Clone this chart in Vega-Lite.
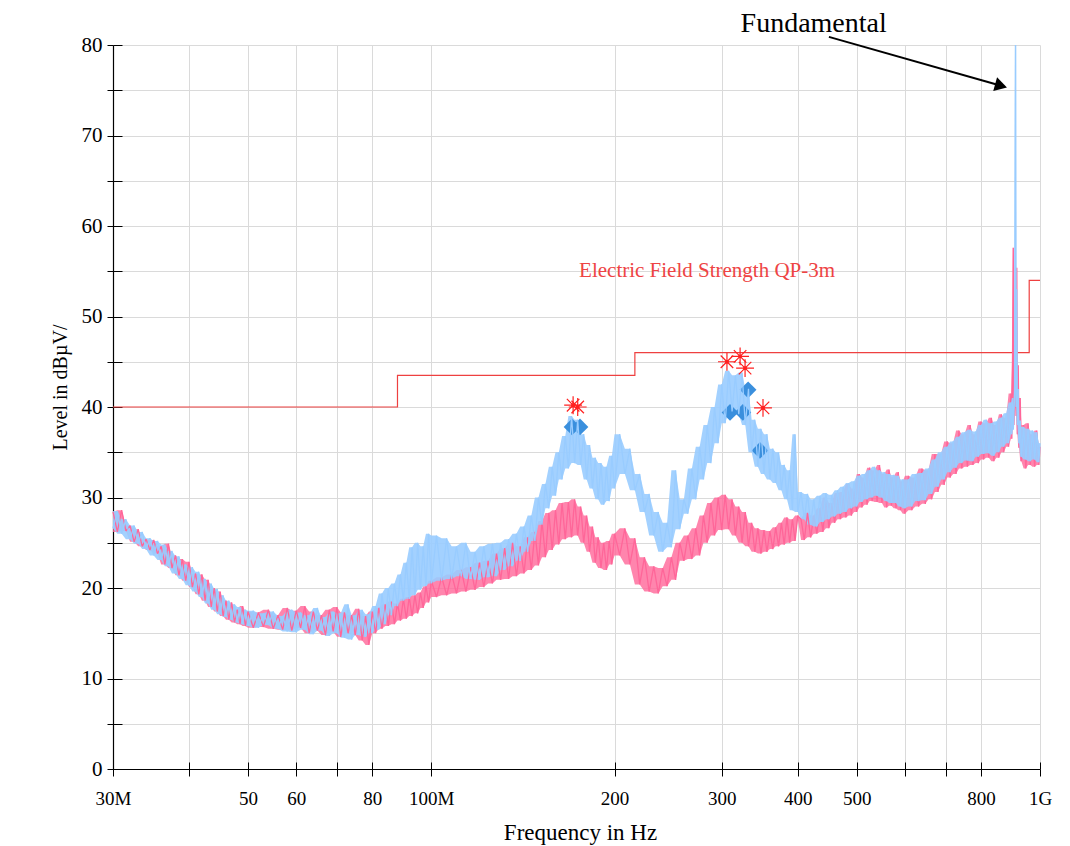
{
"$schema":"https://vega.github.io/schema/vega-lite/v6.json",
"width":927,"height":724,
"autosize":{"type":"none"},
"padding":{"left":113,"top":45,"right":30,"bottom":77},
"background":"white",
"config":{"view":{"stroke":null},"font":"Liberation Serif"},
"datasets":{
"traces":[
{"f":30,"b":26.6,"p":28.4},{"f":30.5,"b":28.5,"p":26.2},{"f":31,"b":26.0,"p":28.6},{"f":31.5,"b":27.6,"p":26.3},{"f":32,"b":25.4,"p":26.9},{"f":32.5,"b":26.9,"p":25.1},{"f":33,"b":24.9,"p":26.5},{"f":33.5,"b":26.2,"p":24.6},{"f":34,"b":24.3,"p":25.4},{"f":34.5,"b":25.5,"p":24.2},{"f":35,"b":23.6,"p":25.3},{"f":35.5,"b":25.2,"p":23.8},{"f":36,"b":23.1,"p":24.6},{"f":36.5,"b":24.8,"p":22.6},{"f":37,"b":22.4,"p":24.9},{"f":37.5,"b":24.1,"p":22.2},{"f":38,"b":21.6,"p":23.6},{"f":38.5,"b":23.5,"p":21.4},{"f":39,"b":21.0,"p":23.2},{"f":39.5,"b":22.6,"p":20.8},{"f":40,"b":20.3,"p":22.9},{"f":40.5,"b":22.3,"p":20.1},{"f":41,"b":19.6,"p":21.6},{"f":41.5,"b":21.8,"p":19.3},{"f":42,"b":19.0,"p":21.5},{"f":42.5,"b":21.0,"p":18.6},{"f":43,"b":18.3,"p":20.9},{"f":43.5,"b":20.5,"p":17.9},{"f":44,"b":17.6,"p":20.0},{"f":44.5,"b":19.9,"p":17.4},{"f":45,"b":17.1,"p":19.6},{"f":45.5,"b":19.2,"p":16.9},{"f":46,"b":16.8,"p":18.6},{"f":46.5,"b":18.6,"p":16.5},{"f":47,"b":16.5,"p":18.4},{"f":47.5,"b":18.2,"p":16.2},{"f":48,"b":16.2,"p":17.6},{"f":48.5,"b":17.9,"p":16.0},{"f":49,"b":16.0,"p":18.0},{"f":49.5,"b":17.6,"p":15.8},{"f":50,"b":15.8,"p":17.4},
{"f":51,"b":17.5,"p":15.6},{"f":52,"b":15.6,"p":17.3},{"f":53,"b":17.2,"p":15.7},{"f":54,"b":15.9,"p":17.6},{"f":55,"b":17.4,"p":15.5},{"f":56,"b":15.5,"p":17.0},{"f":57,"b":16.9,"p":15.4},{"f":58,"b":15.2,"p":17.8},{"f":59,"b":17.6,"p":15.3},{"f":60,"b":15.1,"p":17.5},{"f":61,"b":17.3,"p":15.6},{"f":62,"b":15.4,"p":18.0},{"f":63,"b":17.0,"p":15.0},{"f":64,"b":14.9,"p":17.4},{"f":65,"b":17.8,"p":15.3},{"f":66,"b":15.3,"p":17.0},{"f":67,"b":16.8,"p":14.8},{"f":68,"b":14.7,"p":17.6},{"f":69,"b":17.4,"p":15.2},{"f":70,"b":15.0,"p":17.9},{"f":71,"b":17.2,"p":14.6},{"f":72,"b":14.5,"p":17.3},{"f":73,"b":18.2,"p":15.0},{"f":74,"b":14.3,"p":17.0},{"f":75,"b":17.0,"p":14.8},{"f":76,"b":14.8,"p":17.7},{"f":77,"b":17.6,"p":14.2},{"f":78,"b":14.6,"p":16.9},{"f":79,"b":17.1,"p":13.7},{"f":80,"b":15.0,"p":17.4},{"f":81,"b":18.0,"p":15.0},{"f":82,"b":15.4,"p":17.8},{"f":83,"b":19.4,"p":15.5},{"f":84,"b":16.0,"p":18.2},{"f":85,"b":20.0,"p":15.8},{"f":86,"b":17.0,"p":18.5},{"f":87,"b":20.5,"p":16.0},{"f":88,"b":18.0,"p":18.3},{"f":89,"b":21.5,"p":16.4},{"f":90,"b":18.6,"p":18.8},{"f":91,"b":22.8,"p":16.6},{"f":92,"b":18.8,"p":19.0},{"f":93,"b":24.5,"p":16.9},{"f":94,"b":19.2,"p":19.2},{"f":95,"b":25.0,"p":17.2},{"f":96,"b":19.8,"p":19.5},{"f":97,"b":24.6,"p":17.8},{"f":98,"b":20.2,"p":20.2},{"f":99,"b":26.0,"p":18.4},{"f":100,"b":20.5,"p":20.8},
{"f":102,"b":25.8,"p":19.0},{"f":104,"b":20.8,"p":21.2},{"f":106,"b":25.5,"p":19.2},{"f":108,"b":21.0,"p":21.5},{"f":110,"b":24.6,"p":19.4},{"f":112,"b":21.3,"p":22.0},{"f":114,"b":25.0,"p":19.6},{"f":116,"b":21.0,"p":22.3},{"f":118,"b":24.0,"p":19.8},{"f":120,"b":20.9,"p":22.8},{"f":122,"b":24.6,"p":20.1},{"f":124,"b":21.2,"p":23.0},{"f":126,"b":24.9,"p":20.5},{"f":128,"b":21.3,"p":23.8},{"f":130,"b":25.0,"p":20.9},{"f":132,"b":22.0,"p":24.4},{"f":134,"b":25.4,"p":21.0},{"f":136,"b":22.4,"p":25.0},{"f":138,"b":26.0,"p":21.3},{"f":140,"b":23.0,"p":24.6},{"f":142,"b":26.8,"p":21.6},{"f":144,"b":24.0,"p":25.6},{"f":146,"b":28.0,"p":22.0},{"f":148,"b":25.2,"p":26.2},{"f":150,"b":30.0,"p":22.5},{"f":152,"b":27.0,"p":27.4},{"f":154,"b":31.5,"p":23.4},{"f":156,"b":28.8,"p":28.3},{"f":158,"b":33.4,"p":24.2},{"f":160,"b":30.2,"p":28.6},{"f":162,"b":35.0,"p":24.8},{"f":164,"b":32.0,"p":29.4},{"f":166,"b":36.8,"p":25.4},{"f":168,"b":33.2,"p":29.5},{"f":170,"b":39.0,"p":25.6},{"f":172,"b":33.8,"p":29.8},{"f":174,"b":38.6,"p":25.8},{"f":176,"b":33.6,"p":29.0},{"f":178,"b":37.0,"p":25.0},{"f":180,"b":32.0,"p":28.0},{"f":182,"b":35.8,"p":24.0},{"f":184,"b":31.0,"p":26.8},{"f":186,"b":34.4,"p":22.8},{"f":188,"b":29.8,"p":25.6},{"f":190,"b":33.8,"p":22.2},{"f":192,"b":29.2,"p":25.0},{"f":194,"b":33.4,"p":22.0},{"f":196,"b":29.6,"p":25.2},{"f":198,"b":34.6,"p":22.6},{"f":200,"b":31.0,"p":26.0},
{"f":204,"b":37.0,"p":23.6},{"f":208,"b":32.6,"p":26.6},{"f":212,"b":35.4,"p":22.6},{"f":216,"b":30.8,"p":25.5},{"f":220,"b":32.6,"p":20.4},{"f":224,"b":28.4,"p":23.4},{"f":228,"b":30.4,"p":19.6},{"f":232,"b":25.8,"p":22.4},{"f":236,"b":28.4,"p":19.4},{"f":240,"b":24.0,"p":22.2},{"f":244,"b":27.2,"p":20.2},{"f":248,"b":24.5,"p":23.4},{"f":252,"b":33.0,"p":20.9},{"f":256,"b":26.5,"p":25.0},{"f":260,"b":29.8,"p":23.0},{"f":264,"b":28.2,"p":25.8},{"f":268,"b":33.2,"p":23.2},{"f":272,"b":29.8,"p":26.6},{"f":276,"b":35.6,"p":23.6},{"f":280,"b":32.0,"p":28.0},{"f":284,"b":38.0,"p":25.0},{"f":288,"b":33.8,"p":29.4},{"f":292,"b":40.0,"p":25.8},{"f":296,"b":36.0,"p":30.0},{"f":300,"b":42.5,"p":26.4},{"f":304,"b":38.2,"p":30.3},{"f":308,"b":44.0,"p":26.5},{"f":312,"b":39.5,"p":29.8},{"f":316,"b":43.5,"p":25.8},{"f":320,"b":39.2,"p":29.0},{"f":324,"b":43.8,"p":25.0},{"f":328,"b":38.0,"p":28.4},{"f":332,"b":42.0,"p":24.6},{"f":336,"b":35.0,"p":27.2},{"f":340,"b":38.6,"p":24.0},{"f":344,"b":33.4,"p":26.6},{"f":348,"b":37.6,"p":23.8},{"f":352,"b":32.6,"p":26.4},{"f":356,"b":37.0,"p":24.0},{"f":360,"b":32.0,"p":26.3},{"f":364,"b":35.4,"p":24.3},{"f":368,"b":31.6,"p":26.7},{"f":372,"b":35.0,"p":24.6},{"f":376,"b":30.8,"p":27.2},{"f":380,"b":33.6,"p":24.8},{"f":384,"b":29.8,"p":27.8},{"f":388,"b":33.0,"p":25.0},{"f":392,"b":28.6,"p":27.6},{"f":396,"b":37.0,"p":25.2},{"f":400,"b":28.4,"p":28.0},
{"f":405,"b":30.6,"p":27.6},{"f":410,"b":27.6,"p":25.3},{"f":415,"b":30.4,"p":28.3},{"f":420,"b":27.0,"p":25.6},{"f":425,"b":29.8,"p":28.0},{"f":430,"b":26.8,"p":26.0},{"f":435,"b":30.2,"p":28.8},{"f":440,"b":27.3,"p":26.2},{"f":445,"b":30.5,"p":30.0},{"f":450,"b":27.6,"p":26.6},{"f":455,"b":30.3,"p":29.4},{"f":460,"b":27.9,"p":27.2},{"f":465,"b":30.8,"p":30.5},{"f":470,"b":28.2,"p":27.6},{"f":475,"b":31.2,"p":30.6},{"f":480,"b":28.4,"p":27.8},{"f":485,"b":31.6,"p":31.5},{"f":490,"b":28.8,"p":28.0},{"f":495,"b":31.8,"p":31.0},{"f":500,"b":29.0,"p":28.4},{"f":505,"b":32.4,"p":32.6},{"f":510,"b":29.5,"p":28.9},{"f":515,"b":32.6,"p":32.2},{"f":520,"b":29.8,"p":29.2},{"f":525,"b":33.0,"p":33.3},{"f":530,"b":30.0,"p":29.6},{"f":535,"b":33.4,"p":33.0},{"f":540,"b":30.2,"p":29.5},{"f":545,"b":33.0,"p":33.6},{"f":550,"b":30.0,"p":29.4},{"f":555,"b":32.8,"p":32.6},{"f":560,"b":29.6,"p":28.9},{"f":565,"b":32.6,"p":33.1},{"f":570,"b":29.4,"p":29.1},{"f":575,"b":32.5,"p":32.3},{"f":580,"b":29.4,"p":28.8},{"f":585,"b":32.4,"p":32.8},{"f":590,"b":29.0,"p":28.6},{"f":595,"b":32.0,"p":31.8},{"f":600,"b":28.8,"p":28.2},
{"f":608,"b":32.0,"p":32.4},{"f":616,"b":29.0,"p":28.6},{"f":624,"b":32.6,"p":32.2},{"f":632,"b":29.6,"p":29.0},{"f":640,"b":32.7,"p":33.2},{"f":648,"b":29.7,"p":29.3},{"f":656,"b":33.2,"p":33.0},{"f":664,"b":30.4,"p":29.8},{"f":672,"b":34.2,"p":34.8},{"f":680,"b":31.2,"p":30.6},{"f":688,"b":35.0,"p":34.8},{"f":696,"b":32.0,"p":31.4},{"f":704,"b":35.6,"p":36.2},{"f":712,"b":32.8,"p":32.2},{"f":720,"b":36.2,"p":36.0},{"f":728,"b":33.3,"p":32.6},{"f":736,"b":36.7,"p":37.4},{"f":744,"b":33.8,"p":33.2},{"f":752,"b":37.2,"p":37.0},{"f":760,"b":34.1,"p":33.4},{"f":768,"b":37.5,"p":38.0},{"f":776,"b":34.0,"p":33.6},{"f":784,"b":37.3,"p":37.0},{"f":792,"b":34.5,"p":33.8},{"f":800,"b":38.0,"p":38.4},{"f":808,"b":34.8,"p":34.2},{"f":816,"b":38.6,"p":38.2},{"f":824,"b":34.9,"p":34.4},{"f":832,"b":38.2,"p":38.8},{"f":840,"b":34.6,"p":34.0},{"f":848,"b":38.4,"p":38.0},{"f":856,"b":35.0,"p":34.4},{"f":864,"b":38.8,"p":39.2},{"f":872,"b":35.6,"p":35.0},{"f":880,"b":39.3,"p":38.8},{"f":888,"b":36.0,"p":35.6},{"f":896,"b":40.5,"p":41.5},
{"f":899,"b":37.0,"p":36.5},{"f":902,"b":41.0,"p":45.2},{"f":904,"b":37.5,"p":57.6},{"f":906,"b":39.0,"p":38.0},{"f":909,"b":42.0,"p":41.0},{"f":912,"b":80.0,"p":46.0},{"f":914,"b":40.0,"p":39.0},{"f":916,"b":53.0,"p":55.4},{"f":918,"b":38.0,"p":37.0},{"f":921,"b":42.0,"p":44.6},{"f":924,"b":36.0,"p":35.5},{"f":928,"b":38.5,"p":41.0},{"f":932,"b":34.5,"p":34.0},{"f":940,"b":37.8,"p":38.0},{"f":948,"b":34.2,"p":33.2},{"f":956,"b":37.6,"p":38.2},{"f":964,"b":34.0,"p":33.6},{"f":972,"b":37.4,"p":37.0},{"f":980,"b":34.2,"p":33.4},{"f":988,"b":37.2,"p":37.4},{"f":996,"b":33.9,"p":33.6},{"f":1000,"b":36.0,"p":35.6}
],
"limit":[{"f":30,"v":40},{"f":88,"v":43.5},{"f":216,"v":46},{"f":960,"v":54},{"f":1000,"v":54}],
"stars":[{"f":171,"v":40.2},{"f":174,"v":40.0},{"f":306,"v":45.0},{"f":321.6,"v":45.6},{"f":327.7,"v":44.3},{"f":350.7,"v":39.9}],
"diamonds":[{"f":170.3,"v":37.8},{"f":175.5,"v":37.8},{"f":309.6,"v":39.4},{"f":325,"v":39.4},{"f":331.5,"v":41.9},{"f":346.7,"v":35.2}]
},
"resolve":{"axis":{"x":"independent","y":"independent"}},
"layer":[
{"data":{"name":"limit"},
 "mark":{"type":"line","interpolate":"step-after","color":"#ee4040","strokeWidth":1.2},
 "encoding":{
  "x":{"field":"f","type":"quantitative","scale":{"type":"log","domain":[30,1000],"nice":false,"zero":false},
   "axis":{"orient":"bottom","values":[30,40,50,60,70,80,100,200,300,400,500,600,700,800,1000],
    "labelExpr":"datum.value==30?'30M':datum.value==100?'100M':datum.value==1000?'1G':(datum.value==40||datum.value==70||datum.value==600||datum.value==700)?'':''+datum.value",
    "labelFlush":false,"labelOverlap":false,"labelBound":false,"labelFont":"Liberation Serif","labelFontSize":19,"labelColor":"black","labelPadding":13,
    "tickSize":7,"tickColor":"black","tickWidth":1,"domainColor":"black","domainWidth":1.2,
    "grid":true,"gridColor":"#dadada","gridWidth":1,
    "title":"Frequency in Hz","titleFont":"Liberation Serif","titleFontSize":23,"titleFontWeight":"normal","titleColor":"black","titleX":467,"titleY":70,"titleBaseline":"alphabetic","titleAlign":"center"}},
  "y":{"field":"v","type":"quantitative","scale":{"domain":[0,80],"nice":false},
   "axis":{"orient":"left","values":[0,5,10,15,20,25,30,35,40,45,50,55,60,65,70,75,80],
    "labelExpr":"datum.value%10==0?''+datum.value:''",
    "labelFont":"Liberation Serif","labelFontSize":21,"labelColor":"black","labelPadding":5,
    "tickSize":6,"tickColor":"black","tickWidth":1,"domainColor":"black","domainWidth":1.2,
    "grid":true,"gridColor":"#dadada","gridWidth":1,
    "title":"Level in dBµV/","titleFont":"Liberation Serif","titleFontSize":20,"titleFontWeight":"normal","titleColor":"black","titleX":-53,"titleY":342,"titleAngle":-90,"titleBaseline":"middle","titleAlign":"center"}}
 }},
{"data":{"name":"traces"},
 "transform":[{"window":[{"op":"min","field":"p","as":"plo"},{"op":"max","field":"p","as":"phi"}],"frame":[0,1],"sort":[{"field":"f"}]}],
 "mark":{"type":"area","color":"#ff6699","opacity":0.8},
 "encoding":{
  "x":{"field":"f","type":"quantitative","axis":{"orient":"bottom","values":[30,40,50,60,70,80,100,200,300,400,500,600,700,800,1000],"tickSize":-7,"tickColor":"black","labels":false,"domain":false,"grid":false,"title":null}},
  "y":{"field":"plo","type":"quantitative","axis":{"orient":"left","values":[0,5,10,15,20,25,30,35,40,45,50,55,60,65,70,75,80],"tickSize":-9,"tickColor":"black","labels":false,"domain":false,"grid":false,"title":null}},
  "y2":{"field":"phi"}
 }},
{"data":{"name":"traces"},
 "transform":[{"filter":"datum.f >= 420"}],
 "mark":{"type":"line","color":"#ff6699","strokeWidth":1.3,"strokeJoin":"bevel"},
 "encoding":{"x":{"field":"f","type":"quantitative","axis":null},"y":{"field":"p","type":"quantitative","axis":null}}},
{"data":{"name":"traces"},
 "transform":[{"window":[{"op":"min","field":"b","as":"blo"},{"op":"max","field":"b","as":"bhi"}],"frame":[0,1],"sort":[{"field":"f"}]}],
 "mark":{"type":"area","color":"#99ccff","opacity":0.9},
 "encoding":{"x":{"field":"f","type":"quantitative","axis":null},"y":{"field":"blo","type":"quantitative","axis":null},"y2":{"field":"bhi"}}},
{"data":{"name":"traces"},
 "transform":[{"filter":"datum.f <= 420"}],
 "mark":{"type":"line","color":"#ff6699","strokeWidth":1.3,"strokeJoin":"bevel"},
 "encoding":{"x":{"field":"f","type":"quantitative","axis":null},"y":{"field":"p","type":"quantitative","axis":null}}},
{"data":{"name":"diamonds"},
 "mark":{"type":"point","shape":"diamond","filled":true,"color":"#3a8fdd","size":280,"opacity":1},
 "encoding":{"x":{"field":"f","type":"quantitative","axis":null},"y":{"field":"v","type":"quantitative","axis":null}}},
{"data":{"name":"traces"},
 "mark":{"type":"line","color":"#99ccff","strokeWidth":1.3,"strokeJoin":"bevel"},
 "encoding":{"x":{"field":"f","type":"quantitative","axis":null},"y":{"field":"b","type":"quantitative","axis":null}}},
{"data":{"name":"stars"},
 "mark":{"type":"point","shape":"M-1,0L1,0M0,-1L0,1M-0.7,-0.7L0.7,0.7M-0.7,0.7L0.7,-0.7","filled":false,"stroke":"#ff2020","strokeWidth":1.2,"size":320,"opacity":1},
 "encoding":{"x":{"field":"f","type":"quantitative","axis":null},"y":{"field":"v","type":"quantitative","axis":null}}},
{"data":{"name":"stars"},
 "mark":{"type":"point","shape":"circle","filled":true,"color":"#ff2020","size":14,"opacity":1},
 "encoding":{"x":{"field":"f","type":"quantitative","axis":null},"y":{"field":"v","type":"quantitative","axis":null}}},
{"data":{"values":[{"f":174.9,"v":54.4,"t":"Electric Field Strength QP-3m"}]},
 "mark":{"type":"text","align":"left","baseline":"alphabetic","font":"Liberation Serif","fontSize":21,"color":"#ee4444"},
 "encoding":{"x":{"field":"f","type":"quantitative","axis":null},"y":{"field":"v","type":"quantitative","axis":null},"text":{"field":"t"}}},
{"data":{"values":[{"f":424.8,"v":81.4,"t":"Fundamental"}]},
 "mark":{"type":"text","align":"center","baseline":"alphabetic","font":"Liberation Serif","fontSize":28,"color":"black"},
 "encoding":{"x":{"field":"f","type":"quantitative","axis":null},"y":{"field":"v","type":"quantitative","axis":null},"text":{"field":"t"}}},
{"data":{"values":[{"f":450,"v":80.9,"f2":863,"v2":75.5}]},
 "mark":{"type":"rule","color":"black","strokeWidth":2},
 "encoding":{"x":{"field":"f","type":"quantitative","axis":null},"y":{"field":"v","type":"quantitative","axis":null},"x2":{"field":"f2"},"y2":{"field":"v2"}}},
{"data":{"values":[{"f":863,"v":75.5}]},
 "mark":{"type":"point","shape":"triangle-right","filled":true,"color":"black","size":200,"angle":15.7,"opacity":1},
 "encoding":{"x":{"field":"f","type":"quantitative","axis":null},"y":{"field":"v","type":"quantitative","axis":null}}}
]
}
